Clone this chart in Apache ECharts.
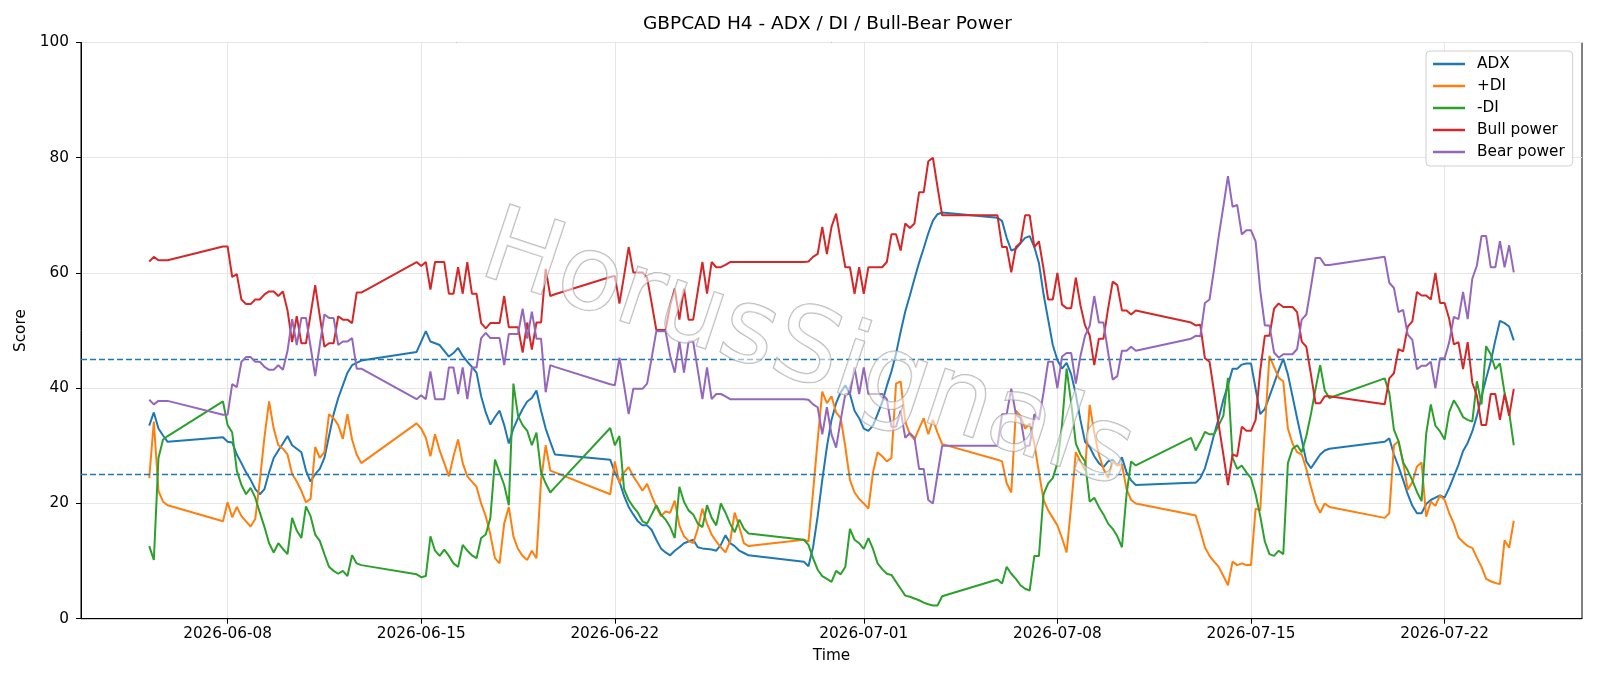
<!DOCTYPE html>
<html>
<head>
<meta charset="utf-8">
<title>GBPCAD H4 - ADX / DI / Bull-Bear Power</title>
<script src="https://cdn.jsdelivr.net/npm/echarts@6/dist/echarts.min.js"></script>
<style>
  html, body { margin: 0; padding: 0; background: #fff; }
  #chart { width: 1600px; height: 686px; }
</style>
</head>
<body>
<div id="chart"></div>
<script>
// H4 bars, one run per trading week (no bars over the weekend)
const sessions = [
  ['2026-06-05 04:00', 5],
  ['2026-06-07 20:00', 31],
  ['2026-06-14 20:00', 31],
  ['2026-06-21 20:00', 31],
  ['2026-06-28 20:00', 31],
  ['2026-07-05 20:00', 31],
  ['2026-07-12 20:00', 31],
  ['2026-07-19 20:00', 29]
];

const tickDates = ['2026-06-08', '2026-06-15', '2026-06-22', '2026-07-01', '2026-07-08', '2026-07-15', '2026-07-22'];
const yTicks = [0, 20, 40, 60, 80, 100];
const levels = [25, 45];

// values per bar, one line per week
const adx = [
  33.5, 35.8, 33.0, 31.8, 30.7,
  31.5, 30.7, 30.6, 28.5, 27.0, 25.4, 24.1, 22.5, 21.6, 22.5, 25.4, 27.9, 29.2, 30.4, 31.7, 30.1, 29.5, 28.9, 25.7, 23.8, 25.1, 26.0, 27.9, 31.7, 35.5, 38.3, 40.5, 42.7, 44.0, 44.4, 44.8,
  46.3, 48.1, 49.9, 48.1, 47.8, 47.5, 46.5, 45.5, 46.1, 47.0, 45.6, 44.6, 43.7, 42.7, 38.6, 35.8, 33.7, 35.0, 36.1, 33.6, 30.4, 33.0, 34.8, 36.4, 37.7, 38.3, 39.6, 36.1, 33.0, 30.7, 28.5,
  27.6, 25.4, 23.8, 21.3, 19.4, 18.1, 16.9, 16.2, 16.2, 15.4, 13.7, 12.2, 11.5, 11.0, 11.8, 12.4, 13.1, 13.4, 13.7, 12.4, 12.2, 12.1, 12.0, 11.8, 12.8, 14.5, 13.1, 12.6, 11.8, 11.4, 11.0,
  9.9, 9.1, 12.4, 17.8, 24.1, 29.8, 34.5, 37.4, 39.3, 40.5, 39.0, 36.1, 34.8, 33.0, 32.6, 33.5, 35.5, 37.6, 40.4, 42.9, 46.0, 49.8, 53.3, 56.1, 59.0, 61.8, 64.3, 66.9, 69.1, 70.2, 70.5,
  69.6, 69.0, 66.1, 63.9, 64.2, 65.2, 66.1, 66.4, 64.5, 61.7, 56.3, 51.9, 47.5, 44.9, 43.4, 44.4, 42.4, 38.9, 34.5, 30.7, 29.8, 28.2, 27.0, 26.3, 27.3, 27.6, 26.6, 28.0, 25.4, 24.0, 23.2,
  23.6, 23.6, 24.4, 26.1, 28.9, 32.0, 34.8, 38.0, 40.5, 43.4, 43.4, 44.1, 44.3, 44.3, 39.9, 35.5, 36.4, 38.6, 40.8, 43.1, 45.1, 42.4, 38.6, 34.8, 31.1, 27.3, 26.1, 27.3, 28.5, 29.2, 29.5,
  30.7, 31.3, 28.5, 26.4, 24.1, 21.6, 19.6, 18.3, 18.3, 19.9, 20.6, 21.0, 21.4, 21.0, 22.7, 24.7, 26.7, 29.1, 30.5, 32.5, 35.2, 38.5, 41.7, 44.6, 48.3, 51.7, 51.3, 50.7, 48.3
];

const plusDI = [
  24.4, 34.2, 22.2, 20.3, 19.7,
  16.9, 20.2, 17.6, 19.4, 17.8, 16.9, 16.0, 17.3, 24.0, 31.5, 37.7, 33.0, 30.1, 29.5, 28.5, 25.1, 23.8, 22.2, 20.2, 20.8, 29.8, 27.9, 28.9, 35.5, 34.8, 33.6, 31.2, 35.5, 31.1, 28.5, 27.0,
  33.9, 33.0, 31.4, 28.2, 32.0, 29.2, 27.0, 24.7, 28.2, 31.1, 27.0, 24.7, 23.8, 22.9, 20.0, 17.8, 14.6, 10.5, 9.6, 16.5, 19.4, 14.3, 12.1, 10.9, 10.2, 11.8, 10.5, 24.0, 30.1, 25.7, 25.4,
  21.6, 27.3, 23.5, 25.4, 26.3, 24.7, 23.5, 22.2, 23.4, 21.3, 19.4, 17.8, 18.6, 18.4, 20.5, 16.2, 14.3, 13.5, 13.1, 15.6, 19.1, 16.5, 14.6, 13.4, 12.4, 11.5, 13.4, 18.4, 15.9, 13.1, 12.6,
  13.7, 13.4, 22.0, 31.0, 39.4, 37.4, 38.6, 35.8, 34.8, 29.8, 24.1, 21.9, 20.8, 20.0, 19.1, 25.4, 28.9, 28.2, 27.3, 27.9, 40.8, 41.2, 34.2, 32.0, 31.1, 33.0, 34.8, 32.0, 34.5, 32.3, 30.3,
  27.6, 27.3, 23.5, 21.9, 36.1, 35.2, 33.0, 33.9, 30.4, 25.4, 20.6, 18.8, 17.5, 16.2, 14.0, 11.5, 19.7, 28.9, 27.3, 25.7, 37.1, 32.3, 28.5, 26.0, 24.4, 27.3, 26.6, 26.8, 22.5, 20.6, 20.0,
  18.1, 17.9, 15.3, 12.4, 10.9, 9.9, 9.0, 7.4, 5.8, 9.9, 9.3, 9.6, 9.3, 9.3, 19.1, 18.8, 33.0, 45.6, 43.7, 41.8, 41.2, 33.0, 30.4, 28.9, 28.5, 26.0, 22.9, 20.0, 18.4, 20.0, 19.4,
  17.5, 18.3, 30.1, 30.8, 27.1, 22.4, 23.7, 26.4, 27.1, 17.7, 20.3, 19.6, 21.4, 20.6, 18.3, 16.5, 14.1, 13.3, 12.6, 12.3, 10.6, 9.0, 6.9, 6.5, 6.2, 6.0, 13.6, 12.3, 17.0
];

const minusDI = [
  12.6, 10.2, 27.9, 31.1, 31.7,
  37.7, 33.6, 32.3, 25.7, 23.2, 21.6, 22.7, 21.0, 18.4, 15.9, 13.1, 11.5, 13.1, 12.1, 11.2, 17.5, 15.3, 14.0, 19.5, 17.8, 14.6, 13.5, 11.2, 9.0, 8.3, 7.8, 8.3, 7.4, 11.0, 9.6, 9.3,
  7.7, 7.2, 7.4, 14.3, 11.8, 10.9, 12.0, 10.9, 9.6, 9.0, 12.8, 11.8, 11.0, 10.5, 14.0, 14.6, 17.5, 27.6, 25.4, 23.2, 19.7, 40.8, 35.2, 33.6, 32.6, 30.1, 32.3, 25.4, 23.5, 21.9, 22.8,
  33.1, 30.1, 31.7, 22.5, 20.6, 19.4, 18.4, 16.9, 16.5, 18.1, 19.7, 18.1, 17.2, 15.9, 14.0, 22.9, 20.3, 18.8, 18.1, 16.5, 15.9, 19.7, 17.5, 16.2, 20.0, 18.4, 16.5, 15.0, 17.2, 15.6, 14.8,
  13.7, 12.8, 10.5, 8.5, 7.4, 6.9, 6.4, 8.3, 7.7, 9.0, 15.6, 13.7, 13.1, 12.1, 14.0, 12.1, 9.6, 8.6, 7.8, 7.6, 6.4, 5.2, 4.0, 3.8, 3.5, 3.2, 2.8, 2.5, 2.3, 2.3, 3.9,
  6.8, 6.1, 9.0, 7.8, 6.9, 5.8, 5.2, 4.9, 10.9, 10.9, 21.6, 23.5, 24.4, 27.0, 33.6, 43.4, 37.4, 30.4, 28.5, 27.3, 20.3, 21.0, 19.4, 18.1, 16.5, 15.6, 14.3, 12.4, 21.6, 27.3, 26.6,
  31.4, 29.2, 30.7, 32.4, 32.0, 32.0, 33.6, 35.2, 41.8, 27.9, 26.0, 26.6, 25.4, 24.4, 21.6, 17.8, 13.4, 11.2, 10.9, 11.8, 11.2, 27.0, 29.5, 30.1, 28.9, 31.7, 35.5, 39.9, 44.0, 39.6, 38.3,
  41.7, 39.2, 32.8, 30.8, 27.1, 25.7, 24.0, 22.0, 20.4, 32.1, 37.2, 33.5, 32.5, 31.1, 35.9, 37.9, 36.6, 35.0, 34.5, 34.2, 41.2, 37.2, 47.3, 45.9, 43.3, 44.3, 39.2, 35.8, 30.1
];

const bullPower = [
  62.0, 62.8, 62.2, 62.2, 62.2,
  64.6, 64.6, 59.3, 59.8, 55.4, 54.6, 54.6, 55.4, 55.4, 56.3, 56.8, 56.8, 56.0, 56.8, 53.5, 48.0, 52.5, 47.8, 47.8, 52.8, 57.9, 52.5, 47.2, 47.8, 47.8, 52.5, 51.9, 51.9, 51.3, 56.6, 56.6,
  61.9, 61.2, 61.9, 57.1, 61.9, 61.9, 61.9, 56.4, 56.4, 61.0, 56.4, 61.9, 56.4, 56.4, 51.3, 50.4, 51.3, 51.3, 51.3, 56.0, 50.6, 50.6, 50.6, 46.2, 51.4, 46.7, 51.4, 51.4, 60.7, 56.0, 56.3,
  59.3, 59.5, 54.7, 59.5, 64.5, 60.1, 60.1, 60.1, 59.2, 54.7, 50.1, 50.1, 50.1, 54.4, 57.3, 51.9, 57.3, 51.9, 51.9, 56.9, 61.9, 56.4, 61.9, 61.0, 61.0, 61.4, 61.9, 61.9, 61.9, 61.9, 61.9,
  61.9, 62.0, 62.8, 63.3, 68.0, 63.3, 68.0, 70.3, 65.5, 61.0, 61.0, 56.4, 61.0, 56.4, 61.0, 61.0, 61.0, 61.0, 61.9, 66.7, 66.7, 63.9, 68.6, 67.8, 68.6, 74.0, 74.0, 79.4, 80.0, 74.9, 70.0,
  70.0, 64.5, 64.5, 60.1, 64.5, 65.2, 70.0, 70.0, 64.5, 65.5, 60.7, 55.4, 55.4, 60.0, 54.5, 53.9, 53.9, 59.2, 54.4, 50.9, 49.2, 44.0, 48.6, 48.6, 53.8, 58.5, 57.9, 53.5, 53.5, 52.8, 53.5,
  51.4, 50.9, 51.0, 45.2, 44.6, 39.3, 33.6, 28.5, 23.2, 28.5, 28.2, 33.3, 32.6, 32.6, 34.5, 43.0, 49.1, 49.1, 53.8, 54.7, 54.1, 54.1, 54.1, 53.2, 48.1, 47.2, 42.4, 37.4, 37.4, 38.6, 38.6,
  37.2, 41.7, 42.6, 46.8, 46.4, 50.7, 51.6, 56.7, 56.1, 56.1, 55.4, 60.0, 54.8, 54.8, 52.0, 47.6, 48.0, 43.3, 48.0, 41.0, 38.7, 33.6, 33.6, 39.0, 39.0, 34.5, 39.0, 35.2, 39.9
];

const bearPower = [
  38.0, 37.2, 37.8, 37.8, 37.8,
  35.4, 35.4, 40.7, 40.2, 44.6, 45.4, 45.4, 44.6, 44.6, 43.7, 43.2, 43.2, 44.0, 43.2, 46.5, 52.0, 47.5, 52.2, 52.2, 47.2, 42.1, 47.5, 52.8, 52.2, 52.2, 47.5, 48.1, 48.1, 48.7, 43.4, 43.4,
  38.1, 38.8, 38.1, 42.9, 38.1, 38.1, 38.1, 43.6, 43.6, 39.0, 43.6, 38.1, 43.6, 43.6, 48.7, 49.6, 48.7, 48.7, 48.7, 44.0, 49.4, 49.4, 49.4, 53.8, 48.6, 53.3, 48.6, 48.6, 39.3, 44.0, 43.7,
  40.7, 40.5, 45.3, 40.5, 35.5, 39.9, 39.9, 39.9, 40.8, 45.3, 49.9, 49.9, 49.9, 45.6, 42.7, 48.1, 42.7, 48.1, 48.1, 43.1, 38.1, 43.6, 38.1, 39.0, 39.0, 38.6, 38.1, 38.1, 38.1, 38.1, 38.1,
  38.1, 38.0, 37.2, 36.7, 32.0, 36.7, 32.0, 29.7, 34.5, 39.0, 39.0, 43.6, 39.0, 43.6, 39.0, 39.0, 39.0, 39.0, 38.1, 33.3, 33.3, 36.1, 31.4, 32.2, 31.4, 26.0, 26.0, 20.6, 20.0, 25.1, 30.0,
  30.0, 35.5, 35.5, 39.9, 35.5, 34.8, 30.0, 30.0, 35.5, 34.5, 39.3, 44.6, 44.6, 40.0, 45.5, 46.1, 46.1, 40.8, 45.6, 49.1, 50.8, 56.0, 51.4, 51.4, 46.2, 41.5, 42.1, 46.5, 46.5, 47.2, 46.5,
  48.6, 49.1, 49.0, 54.8, 55.4, 60.7, 66.4, 71.5, 76.8, 71.5, 71.8, 66.7, 67.4, 67.4, 65.5, 57.0, 50.9, 50.9, 46.2, 45.3, 45.9, 45.9, 45.9, 46.8, 51.9, 52.8, 57.6, 62.6, 62.6, 61.4, 61.4,
  62.8, 58.3, 57.4, 53.2, 53.6, 49.3, 48.4, 43.3, 43.9, 43.9, 44.6, 40.0, 45.2, 45.2, 48.0, 52.4, 52.0, 56.7, 52.0, 59.0, 61.3, 66.4, 66.4, 61.0, 61.0, 65.5, 61.0, 64.8, 60.1
];

const seriesNames = ['ADX', '+DI', '-DI', 'Bull power', 'Bear power'];
const seriesColors = ['#1f77b4', '#ff7f0e', '#2ca02c', '#d62728', '#9467bd'];
const seriesValues = [adx, plusDI, minusDI, bullPower, bearPower];

function parseLocal(s) {
  const [d, t] = s.split(' ');
  const [y, m, day] = d.split('-').map(Number);
  const [hh, mm] = (t || '00:00').split(':').map(Number);
  return new Date(y, m - 1, day, hh, mm).getTime();
}

const barTimes = [];
sessions.forEach(([start, count]) => {
  const [d, t] = start.split(' ');
  const [y, m, day] = d.split('-').map(Number);
  const hh = Number(t.split(':')[0]);
  for (let i = 0; i < count; i++) {
    barTimes.push(new Date(y, m - 1, day, hh + 4 * i, 0).getTime());
  }
});

const tickValues = tickDates.map(d => parseLocal(d));

function pad(n) { return n < 10 ? '0' + n : '' + n; }
function fmtDate(v) {
  const d = new Date(v);
  return d.getFullYear() + '-' + pad(d.getMonth() + 1) + '-' + pad(d.getDate());
}

const font = 'DejaVu Sans';
const chart = echarts.init(document.getElementById('chart'), null, { renderer: 'canvas' });

const series = seriesNames.map((name, i) => ({
  name: name,
  type: 'line',
  data: seriesValues[i].map((v, j) => [barTimes[j], v]),
  showSymbol: false,
  symbol: 'none',
  lineStyle: { color: seriesColors[i], width: 2 },
  itemStyle: { color: seriesColors[i] },
  z: 3 + i
}));

series[0].markLine = {
  silent: true,
  symbol: 'none',
  label: { show: false },
  lineStyle: { color: '#1f77b4', width: 1.4, type: [6, 3] },
  data: levels.map(v => ({ yAxis: v }))
};

chart.setOption({
  animation: false,
  backgroundColor: '#ffffff',
  title: {
    text: 'GBPCAD H4 - ADX / DI / Bull-Bear Power',
    left: 643,
    top: 15,
    padding: 0,
    textStyle: { fontFamily: font, fontSize: 18.5, fontWeight: 'normal', color: '#000' }
  },
  legend: {
    orient: 'vertical',
    left: 1426,
    top: 51,
    padding: [5, 8, 6, 7],
    itemWidth: 32,
    itemHeight: 2.5,
    itemGap: 6,
    icon: 'rect',
    backgroundColor: 'rgba(255,255,255,0.85)',
    borderColor: '#d0d0d0',
    borderWidth: 1,
    borderRadius: 4,
    data: seriesNames,
    textStyle: { fontFamily: font, fontSize: 15.3, color: '#000', lineHeight: 16, padding: [0, 0, 0, 7] }
  },
  grid: {
    left: 81,
    right: 18,
    top: 42.5,
    bottom: 67.3,
    show: true,
    borderColor: '#000',
    borderWidth: 1,
    backgroundColor: 'transparent'
  },
  xAxis: {
    type: 'value',
    min: parseLocal('2026-06-02 16:48'),
    max: parseLocal('2026-07-26 23:12'),
    name: 'Time',
    nameLocation: 'middle',
    nameGap: 30,
    nameTextStyle: { fontFamily: font, fontSize: 15.3, color: '#000' },
    axisLine: { lineStyle: { color: '#000', width: 1 } },
    axisTick: { show: true, length: 5, lineStyle: { color: '#000' }, customValues: tickValues },
    axisLabel: {
      customValues: tickValues,
      formatter: fmtDate,
      margin: 8,
      fontFamily: font,
      fontSize: 15.3,
      color: '#000',
      hideOverlap: false
    },
    splitLine: { show: true, lineStyle: { color: '#e6e6e6', width: 1 } }
  },
  yAxis: {
    type: 'value',
    min: yTicks[0],
    max: yTicks[yTicks.length - 1],
    interval: 20,
    name: 'Score',
    nameLocation: 'middle',
    nameGap: 42.5,
    nameTextStyle: { fontFamily: font, fontSize: 15.3, color: '#000' },
    axisLine: { show: true, lineStyle: { color: '#000', width: 1 } },
    axisTick: { show: true, length: 5, lineStyle: { color: '#000' } },
    axisLabel: { margin: 12, fontFamily: font, fontSize: 15.3, color: '#000' },
    splitLine: { show: true, lineStyle: { color: '#e6e6e6', width: 1 } }
  },
  graphic: [{
    type: 'text',
    x: 807,
    y: 354,
    rotation: -0.32,
    z: 100,
    silent: true,
    style: {
      text: 'HorusSignals',
      font: '104px "DejaVu Sans"',
      align: 'center',
      verticalAlign: 'middle',
      fill: 'rgba(255,255,255,0.55)',
      stroke: 'rgba(150,150,150,0.7)',
      lineWidth: 1.5,
      shadowColor: 'rgba(0,0,0,0.2)',
      shadowBlur: 2,
      shadowOffsetX: 3,
      shadowOffsetY: 3
    }
  }],
  series: series
});
</script>
</body>
</html>
